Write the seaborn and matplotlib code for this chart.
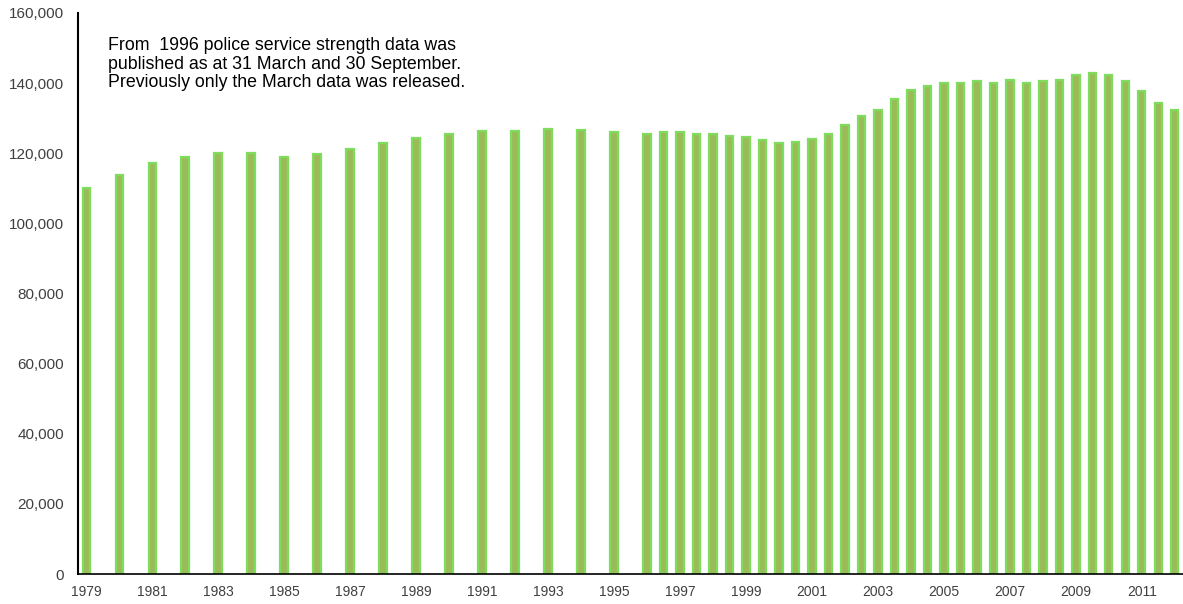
import matplotlib
matplotlib.use("Agg")
import matplotlib.pyplot as plt
import seaborn as sns
import pandas as pd
import numpy as np
from matplotlib.ticker import FuncFormatter

# ---- data ----
annual_years = list(range(1979, 1996))  # March only
annual_values = [110000, 113700, 117300, 119000, 120200, 120200, 119000, 119900,
                 121200, 123000, 124300, 125500, 126300, 126300, 126900, 126600, 126000]

# half-yearly from March 1996 to March 2012 (Mar, Sep, Mar, Sep, ...)
half_values = [125600, 126000, 126000, 125600, 125600, 124900, 124500, 123800,
               122800, 123100, 124200, 125600, 128000, 130500, 132300, 135600,
               137900, 139100, 140100, 140100, 140500, 140100, 140900, 140100,
               140500, 140900, 142300, 143000, 142300, 140500, 137700, 134400, 132300]

tick_years = list(range(1979, 2012, 2))
note = ("From  1996 police service strength data was\n"
        "published as at 31 March and 30 September.\n"
        "Previously only the March data was released.")

# ---- build slots (March / September for every year) ----
slots, vals = [], []
for y in range(1979, 2013):
    for m in ("Mar", "Sep"):
        if y == 2012 and m == "Sep":
            continue
        slots.append(f"{y} {m}")
        if y < 1996:
            vals.append(annual_values[y - 1979] if m == "Mar" else np.nan)
        else:
            idx = (y - 1996) * 2 + (0 if m == "Mar" else 1)
            vals.append(half_values[idx])

df = pd.DataFrame({"slot": slots, "strength": vals})

sns.set_style("white")
plt.rcParams["font.family"] = ["Liberation Sans", "DejaVu Sans"]

fig = plt.figure(figsize=(11.83, 6.04), dpi=100)
ax = fig.add_axes([78 / 1183, 30 / 604, 1 - 78 / 1183, (574 - 13) / 604])

sns.barplot(data=df.dropna(), x="slot", y="strength", order=slots,
            color="#9BBB59", edgecolor="#7EDD5C", linewidth=1.6,
            width=0.45, ax=ax, saturation=1)

ax.set_xlim(-0.5, len(slots) - 0.5)
ax.set_ylim(0, 160000)
ax.set_yticks(np.arange(0, 160001, 20000))
ax.yaxis.set_major_formatter(FuncFormatter(lambda v, p: f"{int(v):,}"))
ax.set_xticks([slots.index(f"{y} Mar") for y in tick_years])
ax.set_xticklabels([str(y) for y in tick_years])
ax.set_xlabel("")
ax.set_ylabel("")
ax.tick_params(axis="both", length=0, colors="#404040")
ax.tick_params(axis="y", pad=10, labelsize=11)
ax.tick_params(axis="x", pad=8, labelsize=10)

for s in ("top", "right"):
    ax.spines[s].set_visible(False)
ax.spines["left"].set_color("black")
ax.spines["left"].set_linewidth(1.5)
ax.spines["bottom"].set_color("black")
ax.spines["bottom"].set_linewidth(1.2)

fig.text(108 / 1183, 1 - 37 / 604, note, ha="left", va="top",
         fontsize=12.8, color="black", linespacing=1.12)

fig.savefig("out.png", dpi=100)
